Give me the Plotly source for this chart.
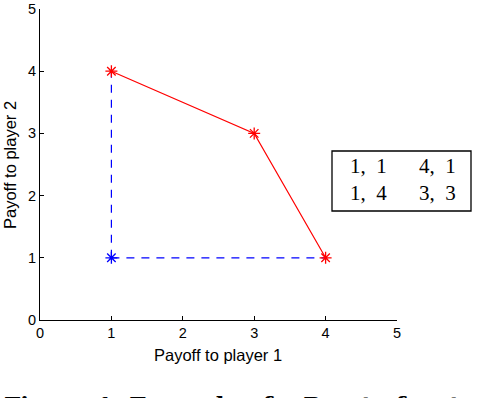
import plotly.graph_objects as go

# Data
pareto_x = [1, 3, 4]
pareto_y = [4, 3, 1]
dominated_x = [1]
dominated_y = [1]
vline_x = [1, 1]
vline_y = [1, 4]
hline_x = [1, 4]
hline_y = [1, 1]
table_rows = [["1,&#8194;1", "4,&#8194;1"], ["1,&#8194;4", "3,&#8194;3"]]
ticks = [0, 1, 2, 3, 4, 5]

W, H = 478, 398
# plot area in page pixels
L, R, T, B = 40, 397, 9, 320
pw, ph = R - L, B - T

def px(x):
    return (x - L) / pw

def py(y):
    return (B - y) / ph

SANS = "Liberation Sans, Arial, Helvetica"
SERIF = "Liberation Serif, DejaVu Serif"

fig = go.Figure()
fig.add_trace(go.Scatter(x=vline_x, y=vline_y, mode="lines",
                         line=dict(color="#0000ff", width=1.2, dash="8px,7px"),
                         showlegend=False, hoverinfo="skip"))
fig.add_trace(go.Scatter(x=hline_x, y=hline_y, mode="lines",
                         line=dict(color="#0000ff", width=1.2, dash="8px,7px"),
                         showlegend=False, hoverinfo="skip"))
fig.add_trace(go.Scatter(x=dominated_x, y=dominated_y, mode="markers",
                         marker=dict(symbol="asterisk-open", size=10, color="#0000ff",
                                     line=dict(color="#0000ff", width=1.3)),
                         showlegend=False))
fig.add_trace(go.Scatter(x=pareto_x, y=pareto_y, mode="lines+markers",
                         line=dict(color="#ff0000", width=1.2),
                         marker=dict(symbol="asterisk-open", size=10, color="#ff0000",
                                     line=dict(color="#ff0000", width=1.3)),
                         showlegend=False))

axis_common = dict(range=[0, 5], tickvals=ticks, showgrid=False, zeroline=False,
                   showline=True, linecolor="black", linewidth=1,
                   ticks="inside", ticklen=4, tickcolor="black",
                   tickfont=dict(family=SANS, size=14.5, color="black"),
                   fixedrange=True, automargin=False)
fig.update_xaxes(**axis_common)
fig.update_yaxes(**axis_common)

# axis titles placed as annotations for precise positioning
fig.add_annotation(x=px(218), y=py(355), xref="paper", yref="paper",
                   text="Payoff to player 1", showarrow=False,
                   xanchor="center", yanchor="middle",
                   font=dict(family=SANS, size=16.5, color="black"))
fig.add_annotation(x=px(10), y=py(165), xref="paper", yref="paper",
                   text="Payoff to player 2", showarrow=False, textangle=-90,
                   xanchor="center", yanchor="middle",
                   font=dict(family=SANS, size=16.5, color="black"))

# table box
fig.add_shape(type="rect", xref="paper", yref="paper",
              x0=px(332), x1=px(471), y0=py(211), y1=py(151),
              line=dict(color="black", width=1.3), fillcolor="white")
col_centers = [368, 437]
row_centers = [166, 193]
for ri, row in enumerate(table_rows):
    for ci, txt in enumerate(row):
        fig.add_annotation(x=px(col_centers[ci]), y=py(row_centers[ri]),
                           xref="paper", yref="paper", text=txt, showarrow=False,
                           xanchor="center", yanchor="middle",
                           font=dict(family=SERIF, size=21, color="black"))

# caption (cropped at the bottom, as in the reference)
fig.add_annotation(x=px(2), y=py(389), xref="paper", yref="paper",
                   text="<b>Figure 1: Example of a Pareto front</b>", showarrow=False,
                   xanchor="left", yanchor="top",
                   font=dict(family="DejaVu Serif", size=23, color="black"))

fig.update_layout(width=W, height=H, autosize=False,
                  margin=dict(l=L, r=W - R, t=T, b=H - B, pad=0, autoexpand=False),
                  plot_bgcolor="white", paper_bgcolor="white")

fig.write_html("out.html", config={"displayModeBar": False},
               post_script="document.body.style.margin='0';document.body.style.padding='0';")
